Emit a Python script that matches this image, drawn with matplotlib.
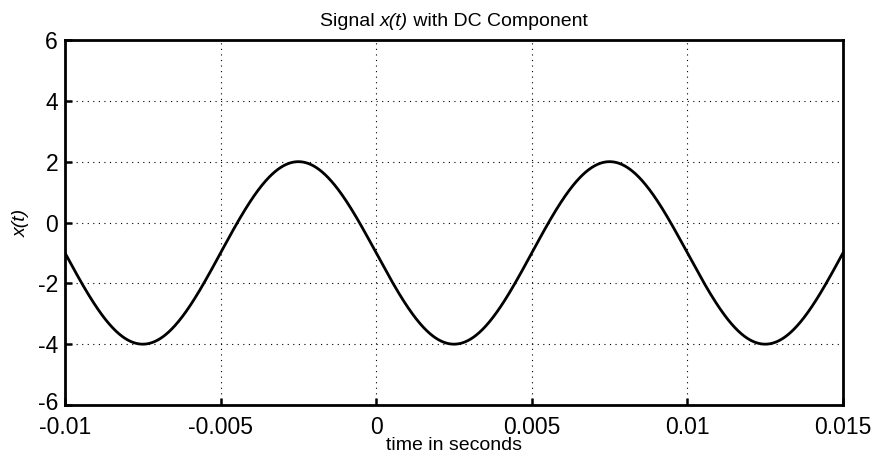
import numpy as np
import matplotlib
matplotlib.use("Agg")
import matplotlib.pyplot as plt
import matplotlib.transforms as mtransforms
from matplotlib.offsetbox import TextArea, HPacker, AnchoredOffsetbox

# Signal parameters
dc_offset = -1.0        # midline of the sinusoid
amplitude = 3.0         # peak 2, trough -4
frequency_hz = 100.0    # period 0.01 s
peak_time = -0.0025     # time of a maximum
t_start, t_end = -0.01, 0.015

x_ticks = [-0.01, -0.005, 0, 0.005, 0.01, 0.015]
x_tick_labels = ["-0.01", "-0.005", "0", "0.005", "0.01", "0.015"]
y_ticks = [-6, -4, -2, 0, 2, 4, 6]
y_tick_labels = ["-6", "-4", "-2", "0", "2", "4", "6"]

t = np.linspace(t_start, t_end, 2000)
x = dc_offset + amplitude * np.cos(2 * np.pi * frequency_hz * (t - peak_time))

plt.rcParams['font.family'] = ['Liberation Sans', 'DejaVu Sans']
fig = plt.figure(figsize=(8.76, 4.57), dpi=100)
ax = fig.add_axes([65/876, 1-405/457, (843-65)/876, (405-40)/457])
ax.plot(t, x, color='black', linewidth=2.0)
ax.set_xlim(t_start, t_end)
ax.set_ylim(-6, 6)
ax.set_xticks(x_ticks)
ax.set_xticklabels(x_tick_labels)
ax.set_yticks(y_ticks)
ax.set_yticklabels(y_tick_labels)
ax.tick_params(direction='in', length=5, width=1.8, labelsize=16.5, colors='black')
ax.tick_params(axis='x', pad=8)
ax.tick_params(axis='y', pad=5)
for s in ax.spines.values():
    s.set_linewidth(2.0)
    s.set_color('black')
ax.grid(True, color='black', linestyle=(0, (1, 4)), linewidth=0.8)

# nudge the bottom y tick label slightly up so it does not collide with -0.01
lowest = ax.get_yticklabels()[0]
lowest.set_transform(lowest.get_transform() +
                     mtransforms.ScaledTranslation(0, 4/100, fig.dpi_scale_trans))

# Title with italic x(t)
fs_title = 14
parts = [TextArea('Signal ', textprops=dict(fontsize=fs_title)),
         TextArea('x(t)', textprops=dict(fontsize=fs_title, style='italic')),
         TextArea(' with DC Component', textprops=dict(fontsize=fs_title))]
box = HPacker(children=parts, align='baseline', pad=0, sep=0)
anch = AnchoredOffsetbox(loc='lower center', child=box, frameon=False,
                         bbox_to_anchor=(0.5, 1.0), bbox_transform=ax.transAxes,
                         borderpad=0.75, pad=0)
ax.add_artist(anch)
ax.set_xlabel('time in seconds', fontsize=14, labelpad=-1.5)
ax.set_ylabel('x(t)', fontsize=14, style='italic', labelpad=6)
fig.savefig('out.png', dpi=100)
